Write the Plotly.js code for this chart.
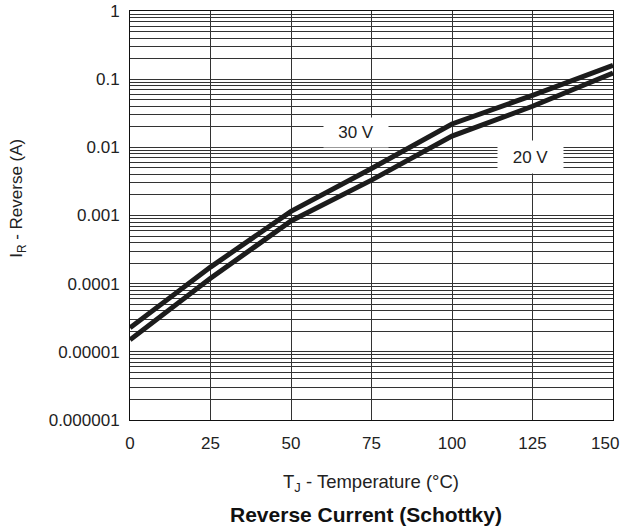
<!DOCTYPE html>
<html>
<head>
<meta charset="utf-8">
<script src="https://cdn.plot.ly/plotly-3.0.1.min.js"></script>
<style>html,body{margin:0;padding:0;background:#fff;}</style>
</head>
<body>
<div id="chart" style="width:623px;height:529px;"></div>
<script>
// Data
var temperature = [0, 25, 50, 75, 100, 125, 150];
var current30V = [2.25e-5, 1.75e-4, 1.15e-3, 4.9e-3, 0.022, 0.058, 0.16];
var current20V = [1.5e-5, 1.2e-4, 8.3e-4, 3.3e-3, 0.0146, 0.040, 0.123];
var xTicks = [0, 25, 50, 75, 100, 125, 150];
var xTickLabels = ["0", "25", "50", "75", "100", "125", "150"];
var yDecades = [0.000001, 0.00001, 0.0001, 0.001, 0.01, 0.1, 1];
var yDecadeLabels = ["0.000001", "0.00001", "0.0001", "0.001", "0.01", "0.1", "1"];

var font = "Liberation Sans, Arial, Helvetica, sans-serif";
var lineStyle = {color: "#1c1c1c", width: 5};

var traces = [
  {x: temperature, y: current30V, mode: "lines", line: lineStyle, name: "30 V", hoverinfo: "skip"},
  {x: temperature, y: current20V, mode: "lines", line: lineStyle, name: "20 V", hoverinfo: "skip"}
];

// last x tick label sits flush with the right edge, so it is drawn right-aligned
var nx = xTicks.length - 1;

var layout = {
  width: 623, height: 529,
  margin: {l: 130, r: 10, t: 11, b: 109},
  paper_bgcolor: "#fff", plot_bgcolor: "#fff",
  showlegend: false,
  font: {family: font, size: 17, color: "#222"},
  xaxis: {
    range: [0, 150], tickvals: xTicks.slice(0, nx), ticktext: xTickLabels.slice(0, nx),
    ticks: "", showgrid: true,
    gridcolor: "#333", gridwidth: 1, zeroline: false,
    showline: true, linecolor: "#111", linewidth: 1, mirror: true,
    ticklabelstandoff: 8,
    tickfont: {family: font, size: 17, color: "#222"}
  },
  yaxis: {
    type: "log", range: [-6, 0], tickvals: yDecades, ticktext: yDecadeLabels,
    ticks: "", showgrid: true, gridcolor: "#333", gridwidth: 1, zeroline: false,
    minor: {showgrid: true, dtick: "D1", gridcolor: "#333", gridwidth: 1, ticks: ""},
    showline: true, linecolor: "#111", linewidth: 1, mirror: true,
    ticklabelstandoff: 6,
    tickfont: {family: font, size: 17, color: "#222"}
  },
  annotations: [
    {x: xTicks[nx], y: 0, xref: "x", yref: "paper", text: xTickLabels[nx], showarrow: false,
     xanchor: "right", yanchor: "top", xshift: 8, yshift: -12, font: {family: font, size: 17, color: "#222"}},
    {x: 70.2, y: Math.log10(0.0166), xref: "x", yref: "y", text: "30 V", showarrow: false,
     bgcolor: "#fff", width: 62, height: 27, font: {family: font, size: 17, color: "#222"}},
    {x: 124.5, y: Math.log10(0.0073), xref: "x", yref: "y", text: "20 V", showarrow: false,
     bgcolor: "#fff", width: 63, height: 30, font: {family: font, size: 17, color: "#222"}},
    {x: 0.498, y: -0.154, xref: "paper", yref: "paper", text: "T<sub>J</sub> - Temperature (°C)",
     showarrow: false, xanchor: "center", yanchor: "middle", font: {family: font, size: 18.5, color: "#222"}},
    {x: 0.489, y: -0.232, xref: "paper", yref: "paper", text: "<b>Reverse Current (Schottky)</b>",
     showarrow: false, xanchor: "center", yanchor: "middle", font: {family: font, size: 21, color: "#111"}},
    {x: -0.232, y: 0.543, xref: "paper", yref: "paper", text: "I<sub>R</sub> - Reverse (A)",
     showarrow: false, xanchor: "center", yanchor: "middle", textangle: -90, font: {family: font, size: 17, color: "#222"}}
  ]
};

Plotly.newPlot("chart", traces, layout, {displayModeBar: false, staticPlot: true});
</script>
</body>
</html>
